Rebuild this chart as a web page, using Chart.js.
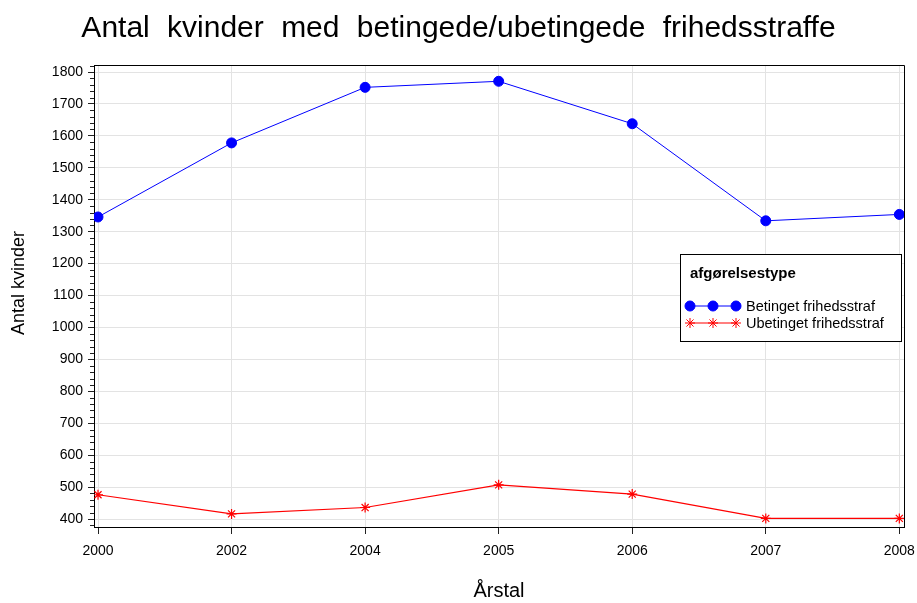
<!DOCTYPE html>
<html>
<head>
<meta charset="utf-8">
<script src="https://cdn.jsdelivr.net/npm/chart.js@4/dist/chart.umd.min.js"></script>
<style>
  body { margin: 0; background: #fff; }
  #wrap { width: 917px; height: 603px; }
</style>
</head>
<body>
<div id="wrap"><canvas id="chart" width="917" height="603"></canvas></div>
<script>
//------------------------------------------- Data -------------------------------------------//
const years = ['2000', '2002', '2004', '2005', '2006', '2007', '2008'];
const betinget = [1346, 1578, 1752, 1771, 1638, 1334, 1354];
const ubetinget = [476, 416, 436, 507, 478, 402, 402];
const yTickValues = [400, 500, 600, 700, 800, 900, 1000, 1100, 1200, 1300, 1400, 1500, 1600, 1700, 1800];

const chartTitle = 'Antal kvinder med betingede/ubetingede frihedsstraffe';
const yTitle = 'Antal kvinder';
const legendTitle = 'afgørelsestype';
const seriesNames = ['Betinget frihedsstraf', 'Ubetinget frihedsstraf'];

const fontFamily = "'Liberation Sans', Arial, sans-serif";

//------------------------------------------- Plugins -------------------------------------------//

// titles: wide word spacing on the main one, y title sits a bit above centre
const titlePlugin = {
    id: 'bigTitle',
    afterDraw(chart) {
        const ctx = chart.ctx;
        ctx.save();
        ctx.font = '30px ' + fontFamily;
        ctx.fillStyle = '#000';
        ctx.textAlign = 'center';
        ctx.textBaseline = 'alphabetic';
        ctx.wordSpacing = '9px';
        ctx.fillText(chartTitle, chart.width / 2, 37);
        ctx.restore();

        ctx.save();
        ctx.font = '18px ' + fontFamily;
        ctx.fillStyle = '#000';
        ctx.textAlign = 'center';
        ctx.textBaseline = 'alphabetic';
        ctx.translate(24, 283);
        ctx.rotate(-Math.PI / 2);
        ctx.fillText(yTitle, 0, 0);
        ctx.restore();
    }
};

// frame on top/right and minor ticks on the y axis
const framePlugin = {
    id: 'frame',
    afterDraw(chart) {
        const ctx = chart.ctx;
        const a = chart.chartArea;
        const y = chart.scales.y;
        ctx.save();
        ctx.strokeStyle = '#000';
        ctx.lineWidth = 1;
        ctx.beginPath();
        ctx.moveTo(a.left, a.top + 0.5);
        ctx.lineTo(a.right + 0.5, a.top + 0.5);
        ctx.lineTo(a.right + 0.5, a.bottom);
        ctx.stroke();
        ctx.strokeStyle = '#222';
        ctx.beginPath();
        for (let v = 380; v <= 1820; v += 20) {
            if (v % 100 === 0) continue;
            const py = Math.round(y.getPixelForValue(v)) + 0.5;
            ctx.moveTo(a.left - 4, py);
            ctx.lineTo(a.left, py);
        }
        ctx.stroke();
        ctx.restore();
    }
};

// boxed legend inside the plot, three markers per entry
const legendPlugin = {
    id: 'boxLegend',
    afterDraw(chart) {
        const ctx = chart.ctx;
        const a = chart.chartArea;
        const x0 = a.right - 224, y0 = a.top + 189, w = 221, h = 87;
        ctx.save();
        ctx.fillStyle = '#fff';
        ctx.fillRect(x0, y0, w, h);
        ctx.strokeStyle = '#000';
        ctx.lineWidth = 1;
        ctx.strokeRect(x0 + 0.5, y0 + 0.5, w, h);

        ctx.fillStyle = '#000';
        ctx.font = 'bold 15px ' + fontFamily;
        ctx.textBaseline = 'alphabetic';
        ctx.textAlign = 'left';
        ctx.fillText(legendTitle, x0 + 10, y0 + 24);

        chart.data.datasets.forEach((ds, i) => {
            const cy = y0 + 52 + i * 17;
            const lx0 = x0 + 10, lx1 = x0 + 56;
            ctx.strokeStyle = ds.borderColor;
            ctx.lineWidth = ds.borderWidth;
            ctx.beginPath();
            ctx.moveTo(lx0, cy);
            ctx.lineTo(lx1, cy);
            ctx.stroke();
            [lx0, (lx0 + lx1) / 2, lx1].forEach(px => {
                ctx.fillStyle = ds.pointBackgroundColor;
                ctx.strokeStyle = ds.pointBorderColor;
                ctx.lineWidth = 1;
                Chart.helpers.drawPoint(ctx, {
                    pointStyle: ds.pointStyle, radius: ds.pointRadius, rotation: 0, borderWidth: 1
                }, px, cy);
            });
            ctx.fillStyle = '#000';
            ctx.font = '14.5px ' + fontFamily;
            ctx.textBaseline = 'middle';
            ctx.fillText(ds.label, x0 + 66, cy + 1);
        });
        ctx.restore();
    }
};

//------------------------------------------- Chart -------------------------------------------//

const ctx = document.getElementById('chart');
const chart = new Chart(ctx, {
    type: 'line',
    data: {
        datasets: [{
            label: seriesNames[0],
            data: betinget.map((v, i) => ({ x: i, y: v })),
            borderColor: '#0000ff',
            borderWidth: 1,
            pointStyle: 'circle',
            pointRadius: 5,
            pointBackgroundColor: '#0000ff',
            pointBorderColor: '#0000ff',
            tension: 0,
            fill: false
        }, {
            label: seriesNames[1],
            data: ubetinget.map((v, i) => ({ x: i, y: v })),
            borderColor: '#ff0000',
            borderWidth: 1.2,
            pointStyle: 'star',
            pointRadius: 5,
            pointBackgroundColor: '#ff0000',
            pointBorderColor: '#ff0000',
            tension: 0,
            fill: false
        }]
    },
    options: {
        responsive: false,
        animation: false,
        layout: {
            padding: { top: 65, right: 13, left: 0, bottom: 0 }
        },
        plugins: {
            legend: { display: false },
            title: { display: false },
            tooltip: { enabled: false }
        },
        scales: {
            x: {
                type: 'linear',
                min: -0.03,
                max: 6.035,
                afterBuildTicks: s => { s.ticks = years.map((y, i) => ({ value: i })); },
                afterFit: s => { s.height = 76; s.paddingLeft = 0; s.paddingRight = 0; },
                grid: { color: '#e3e3e3', tickColor: '#222', tickLength: 7, lineWidth: 1 },
                border: { color: '#000', width: 1 },
                ticks: {
                    autoSkip: false,
                    maxRotation: 0,
                    padding: 9,
                    color: '#000',
                    font: { family: fontFamily, size: 14 },
                    callback: (v) => years[v]
                },
                title: {
                    display: true,
                    text: 'Årstal',
                    color: '#000',
                    font: { family: fontFamily, size: 20 },
                    padding: { top: 0, bottom: 0 }
                }
            },
            y: {
                type: 'linear',
                min: 375,
                max: 1822,
                afterBuildTicks: s => { s.ticks = yTickValues.map(v => ({ value: v })); },
                afterFit: s => { s.width = 94; s.paddingTop = 0; s.paddingBottom = 0; },
                grid: { color: '#e3e3e3', tickColor: '#222', tickLength: 6, lineWidth: 1 },
                border: { color: '#000', width: 1 },
                ticks: {
                    autoSkip: false,
                    padding: 5,
                    color: '#000',
                    font: { family: fontFamily, size: 14 },
                    callback: (v) => String(v)
                }
            }
        }
    },
    plugins: [titlePlugin, framePlugin, legendPlugin]
});
</script>
</body>
</html>
